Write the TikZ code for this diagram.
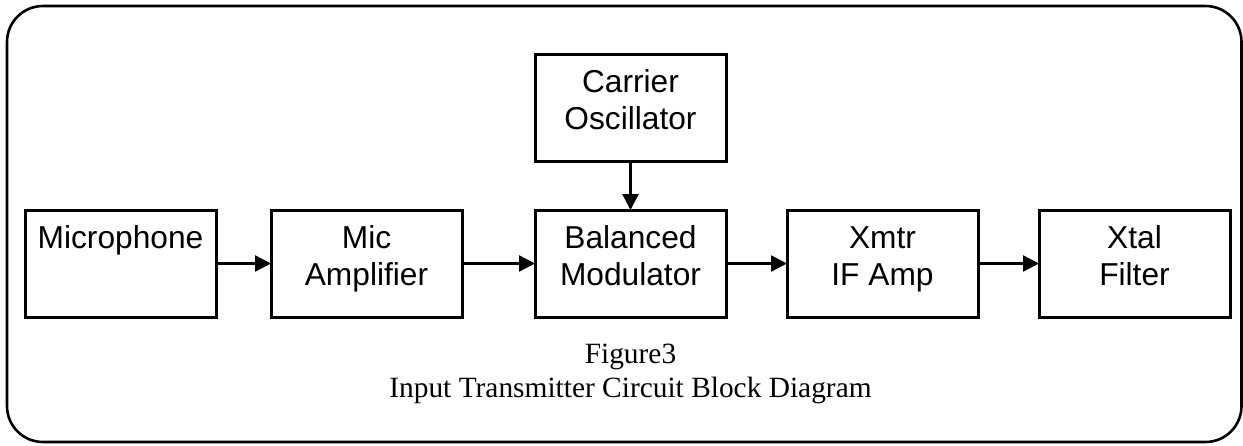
\documentclass[tikz,border=0pt]{standalone}
\usepackage{fontspec}
\setmainfont{Liberation Serif}
\setsansfont{Liberation Sans}
\usetikzlibrary{arrows.meta}
\newcommand\blktext[2]{\parbox[c][107pt][t]{191pt}{\centering\sffamily\fontsize{31.7pt}{37pt}\selectfont\rule{0pt}{38pt}#1\\#2}}
\tikzset{
  blk/.style={draw, line width=3pt, inner sep=0pt, outer sep=0pt, minimum width=191pt, minimum height=107pt, anchor=north west},
  flow/.style={line width=2.4pt, -{Triangle[length=16pt,width=16pt]}},
  captext/.style={anchor=base, font=\fontsize{29.4pt}{34pt}\selectfont, inner sep=0pt}
}
\begin{document}
\begin{tikzpicture}[x=1pt,y=-1pt]
\useasboundingbox (0,0) rectangle (1243,445);
\draw[line width=2.6pt, rounded corners=36pt] (7,6) rectangle (1241.5,442);
\node[blk] (mic) at (25,210) {\blktext{Microphone}{}};
\node[blk] (amp) at (271,210) {\blktext{Mic}{Amplifier}};
\node[blk] (bal) at (535,210) {\blktext{Balanced}{Modulator}};
\node[blk] (osc) at (535,54) {\blktext{Carrier}{Oscillator}};
\node[blk] (ifa) at (787,210) {\blktext{Xmtr}{IF Amp}};
\node[blk] (xtl) at (1039,210) {\blktext{Xtal}{Filter}};
\draw[flow] (mic.east) -- (amp.west);
\draw[flow] (amp.east) -- (bal.west);
\draw[flow] (bal.east) -- (ifa.west);
\draw[flow] (ifa.east) -- (xtl.west);
\draw[flow] (osc.south) -- (bal.north);
\node[captext] (fig) at (630.5,363) {Figure3};
\node[captext] (title) at (630.5,397) {Input Transmitter Circuit Block Diagram};
\end{tikzpicture}
\end{document}
